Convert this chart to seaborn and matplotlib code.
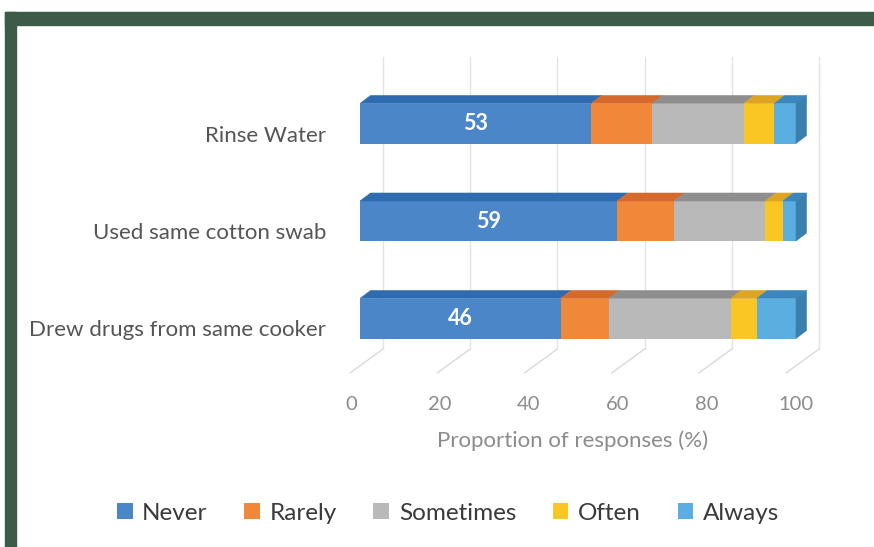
import numpy as np
import matplotlib
matplotlib.use("Agg")
import matplotlib.pyplot as plt
import seaborn as sns
from matplotlib.patches import Polygon, Patch, Rectangle
from matplotlib.transforms import ScaledTranslation

# data
categories = ["Rinse Water", "Used same cotton swab", "Drew drugs from same cooker"]
levels = ["Never", "Rarely", "Sometimes", "Often", "Always"]
never = [53, 59, 46]
rarely = [14, 13, 11]
sometimes = [21, 21, 28]
often = [7, 4, 6]
always = [5, 3, 9]
xticks = [0, 20, 40, 60, 80, 100]

front_cols = ["#4a86c8", "#f0883a", "#b9b9b9", "#f9c623", "#5aaee0"]
top_cols = ["#2f6bb0", "#d56a2c", "#8e8e8e", "#dea523", "#3a86bd"]
side_col = "#3a7fae"

sns.set_theme(style="white")
plt.rcParams["font.family"] = ["Lato", "DejaVu Sans"]

W, H = 874, 547
fig = plt.figure(figsize=(W / 100, H / 100), dpi=100)

# pixel geometry of the fake 3D box
px_per_pct = 4.36
px_per_cat = 97.5
x0_px, cat0_px = 360, 123.5
ax_l, ax_r, ax_t, ax_b = 340, 840, 40, 400
ax = fig.add_axes([ax_l / W, 1 - ax_b / H, (ax_r - ax_l) / W, (ax_b - ax_t) / H])

def dx(px):
    return px / px_per_pct

def dy(px):
    return px / px_per_cat

# green frame
fig.patches.append(Rectangle((5 / W, 1 - 25 / H), 1, 13 / H, transform=fig.transFigure,
                             color="#3d5c47", zorder=0))
fig.patches.append(Rectangle((5 / W, 0), 11 / W, 1 - 12 / H, transform=fig.transFigure,
                             color="#3d5c47", zorder=0))

vals = np.array([never, rarely, sometimes, often, always], dtype=float)
cum = vals.cumsum(axis=0)
bar_h = 40 / px_per_cat

# stacked bars: draw cumulative totals from the back so shorter ones sit on top
for k in range(len(levels) - 1, -1, -1):
    sns.barplot(x=cum[k], y=categories, color=front_cols[k], orient="h",
                width=bar_h, errorbar=None, saturation=1, ax=ax, zorder=2,
                linewidth=0)

# top and right faces
ddx, ddy = dx(10.5), dy(8)
for i in range(len(categories)):
    top = i - bar_h / 2
    left = 0
    for k in range(len(levels)):
        right = cum[k][i]
        ax.add_patch(Polygon([(left, top), (right, top), (right + ddx, top - ddy),
                              (left + ddx, top - ddy)], closed=True,
                             facecolor=top_cols[k], edgecolor=top_cols[k],
                             linewidth=0.4, zorder=2))
        left = right
    ax.add_patch(Polygon([(left, top), (left + ddx, top - ddy),
                          (left + ddx, top + bar_h - ddy), (left, top + bar_h)],
                         closed=True, facecolor=side_col, edgecolor=side_col,
                         linewidth=0.4, zorder=2))
    ax.text(never[i] / 2, i, str(never[i]), ha="center", va="center",
            color="white", fontsize=15.5, fontweight="bold", zorder=3)

# floor and back wall gridlines
fx, fy = dx(-10), (373 - cat0_px) / px_per_cat
bx, by = dx(23), (349 - cat0_px) / px_per_cat
wall_top = (57 - cat0_px) / px_per_cat
for t in xticks:
    ax.plot([t + fx, t + bx], [fy, by], color="#d9d9d9", lw=1, zorder=0.5)
    ax.plot([t + bx, t + bx], [by, wall_top], color="#e3e3e3", lw=1, zorder=0.5)
    ax.text(t * 1.02 + dx(-9), (404 - cat0_px) / px_per_cat, str(t), ha="center",
            va="center", color="#8c8c8c", fontsize=14.5)

ax.set_xlim(dx(ax_l - x0_px), dx(ax_r - x0_px))
ax.set_ylim((ax_b - cat0_px) / px_per_cat, (ax_t - cat0_px) / px_per_cat)
ax.set_xticks([])
ax.set_yticks(range(len(categories)), categories)
ax.tick_params(axis="y", length=0, pad=10, labelsize=16, labelcolor="#555555")
shift = ScaledTranslation(0, -10 / 100, fig.dpi_scale_trans)
for lab in ax.get_yticklabels():
    lab.set_transform(lab.get_transform() + shift)
ax.set_xlabel("")
ax.set_ylabel("")
for s in ax.spines.values():
    s.set_visible(False)
ax.patch.set_alpha(0)

fig.text(573 / W, 1 - 441 / H, "Proportion of responses (%)", ha="center",
         va="center", color="#8c8c8c", fontsize=16)

handles = [Patch(facecolor=c, edgecolor="none") for c in front_cols]
fig.legend(handles, levels, loc="center", bbox_to_anchor=(448 / W, 1 - 513 / H),
           ncol=5, frameon=False, fontsize=17.5, handlelength=0.65, handleheight=0.65,
           handletextpad=0.4, columnspacing=1.5, labelcolor="#3a3a3a")

fig.savefig("out.png", dpi=100)
